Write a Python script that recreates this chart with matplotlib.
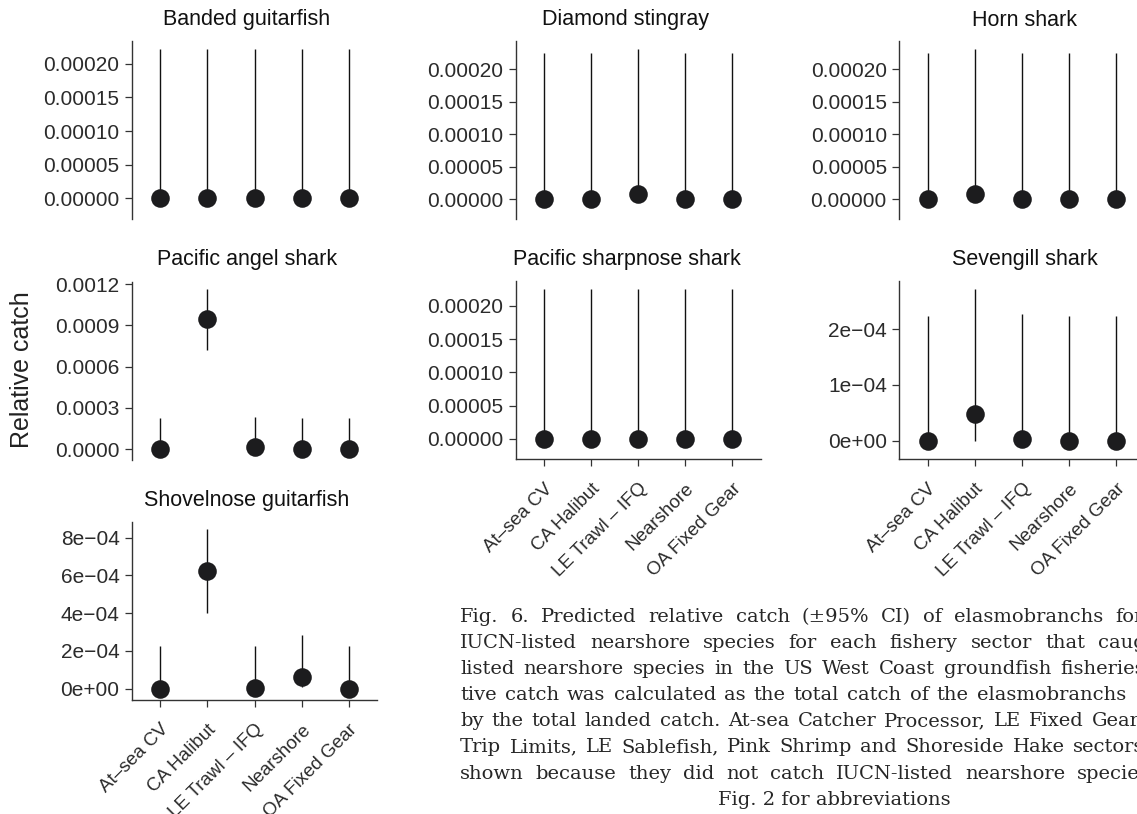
import matplotlib
matplotlib.use("Agg")
import matplotlib.pyplot as plt

# ---------------- data ----------------
sectors = ["At\u2013sea CV", "CA Halibut", "LE Trawl \u2013 IFQ", "Nearshore", "OA Fixed Gear"]

banded_est = [0.0, 0.0, 0.0, 0.0, 0.0]
banded_lo = [0.0, 0.0, 0.0, 0.0, 0.0]
banded_hi = [0.000223, 0.000223, 0.000223, 0.000223, 0.000223]

diamond_est = [0.0, 0.0, 0.0000077, 0.0, 0.0]
diamond_lo = [0.0, 0.0, 0.0, 0.0, 0.0]
diamond_hi = [0.000225, 0.000225, 0.000232, 0.000225, 0.000225]

horn_est = [0.0, 0.0000072, 0.0, 0.0, 0.0]
horn_lo = [0.0, 0.0, 0.0, 0.0, 0.0]
horn_hi = [0.000225, 0.000232, 0.000225, 0.000225, 0.000225]

angel_est = [0.0, 0.000944, 0.0000145, 0.0, 0.0]
angel_lo = [0.0, 0.000721, 0.0, 0.0, 0.0]
angel_hi = [0.000225, 0.001166, 0.000235, 0.000225, 0.000225]

sharpnose_est = [0.0, 0.0, 0.0, 0.0, 0.0]
sharpnose_lo = [0.0, 0.0, 0.0, 0.0, 0.0]
sharpnose_hi = [0.0002246, 0.0002246, 0.0002246, 0.0002246, 0.0002246]

sevengill_est = [0.0, 0.0000479, 0.0000025, 0.0, 0.0]
sevengill_lo = [0.0, 0.0, 0.0, 0.0, 0.0]
sevengill_hi = [0.0002235, 0.0002724, 0.0002265, 0.0002235, 0.0002235]

shovel_est = [0.0, 0.000625, 0.000002, 0.0000604, 0.0]
shovel_lo = [0.0, 0.000403, 0.0, 0.0000074, 0.0]
shovel_hi = [0.000226, 0.000846, 0.000226, 0.000283, 0.000226]

ticks_small = [0.0, 0.00005, 0.0001, 0.00015, 0.0002]
labels_small = ["0.00000", "0.00005", "0.00010", "0.00015", "0.00020"]
ticks_angel = [0.0, 0.0003, 0.0006, 0.0009, 0.0012]
labels_angel = ["0.0000", "0.0003", "0.0006", "0.0009", "0.0012"]
ticks_seven = [0.0, 0.0001, 0.0002]
labels_seven = ["0e+00", "1e\u221204", "2e\u221204"]
ticks_shovel = [0.0, 0.0002, 0.0004, 0.0006, 0.0008]
labels_shovel = ["0e+00", "2e\u221204", "4e\u221204", "6e\u221204", "8e\u221204"]

caption_lines = [
    "Fig. 6. Predicted relative catch (\u00b195% CI) of elasmobranchs for",
    "IUCN-listed nearshore species for each fishery sector that caught",
    "listed nearshore species in the US West Coast groundfish fisheries.",
    "tive catch was calculated as the total catch of the elasmobranchs",
    "by the total landed catch. At-sea Catcher Processor, LE Fixed Gear",
    "Trip Limits, LE Sablefish, Pink Shrimp and Shoreside Hake sectors",
    "shown because they did not catch IUCN-listed nearshore species.",
]
caption_last = "Fig. 2 for abbreviations"

# ---------------- layout ----------------
W, H = 1137, 814
fig = plt.figure(figsize=(W / 100, H / 100), dpi=100)

SANS = ["Liberation Sans", "DejaVu Sans"]
TXT = "#2b2b2b"
AXC = "#333333"


def rect(left, top, right, bottom):
    return [left / W, 1 - bottom / H, (right - left) / W, (bottom - top) / H]


panels = [
    # title, est, lo, hi, ticks, labels, ylim, (left, top, right, bottom), show_x, title_xy
    ("Banded guitarfish", banded_est, banded_lo, banded_hi, ticks_small, labels_small,
     (-0.0000313, 0.0002343), (132, 41, 377, 219), False, (247, 19)),
    ("Diamond stingray", diamond_est, diamond_lo, diamond_hi, ticks_small, labels_small,
     (-0.0000313, 0.0002441), (515.7, 40.7, 760.7, 219.3), False, (626, 20)),
    ("Horn shark", horn_est, horn_lo, horn_hi, ticks_small, labels_small,
     (-0.0000313, 0.0002441), (899.3, 40.7, 1144.3, 219.3), False, (1025, 20)),
    ("Pacific angel shark", angel_est, angel_lo, angel_hi, ticks_angel, labels_angel,
     (-0.0000777, 0.0012167), (132, 281.7, 377, 460), False, (247.5, 259)),
    ("Pacific sharpnose shark", sharpnose_est, sharpnose_lo, sharpnose_hi, ticks_small, labels_small,
     (-0.0000305, 0.0002375), (515.7, 280.7, 760.7, 459.3), True, (626.7, 259)),
    ("Sevengill shark", sevengill_est, sevengill_lo, sevengill_hi, ticks_seven, labels_seven,
     (-0.0000333, 0.0002865), (899.3, 280.7, 1144.3, 459.3), True, (1025, 259)),
    ("Shovelnose guitarfish", shovel_est, shovel_lo, shovel_hi, ticks_shovel, labels_shovel,
     (-0.0000599, 0.000885), (132, 521.7, 377, 700), True, (246.7, 500.7)),
]

xpos = list(range(1, len(sectors) + 1))

for title, est, lo, hi, ticks, labels, ylim, box, show_x, txy in panels:
    ax = fig.add_axes(rect(*box))
    ax.vlines(xpos, lo, hi, colors="#111111", linewidth=1.0, zorder=2)
    ax.plot(xpos, est, "o", color="#1c1c1e", markersize=13.4, markeredgewidth=0,
            zorder=3, clip_on=False)
    ax.set_xlim(0.4, 5.6)
    ax.set_ylim(*ylim)
    ax.set_yticks(ticks)
    ax.set_yticklabels(labels, fontsize=15, color=TXT, family=SANS)
    for s in ("top", "right"):
        ax.spines[s].set_visible(False)
    for s in ("left", "bottom"):
        ax.spines[s].set_color(AXC)
        ax.spines[s].set_linewidth(1.0)
    ax.tick_params(axis="both", length=5, width=0.9, color=AXC, pad=4)
    ax.set_xticks(xpos)
    if show_x:
        ax.set_xticklabels(sectors, fontsize=13.5, color=TXT, family=SANS,
                           rotation=45, ha="right", va="top", rotation_mode="anchor")
        ax.tick_params(axis="x", pad=10)
    else:
        ax.spines["bottom"].set_visible(False)
        ax.tick_params(axis="x", bottom=False, labelbottom=False)
    fig.text(txy[0] / W, 1 - txy[1] / H, title, fontsize=15.5, color="#111111",
             family=SANS, ha="center", va="center")

fig.text(21.7 / W, 1 - 370 / H, "Relative catch", fontsize=18, color="#222222",
         family=SANS, rotation=90, ha="center", va="center")

# ---------------- caption (justified, cut by the page edge) ----------------
CAP_FS = 14.0
CAP_FAM = ["DejaVu Serif"]
CAP_COL = "#262626"
renderer = fig.canvas.get_renderer()


def wwidth(w):
    t = fig.text(0, 0, w, fontsize=CAP_FS, family=CAP_FAM)
    bb = t.get_window_extent(renderer)
    t.remove()
    return bb.width


x_left = 460.0
last_word_start = [1115, 1098, 1060, 977, 1092, 1073, 1077]
base0 = 622.0
lead = 26.1

for i, (line, xl) in enumerate(zip(caption_lines, last_word_start)):
    words = line.split(" ")
    widths = [wwidth(w) for w in words]
    gap = (xl - x_left - sum(widths[:-1])) / (len(words) - 1)
    gap = max(gap, 3.0)
    x = x_left
    yb = base0 + i * lead
    for w, wd in zip(words, widths):
        fig.text(x / W, 1 - yb / H, w, fontsize=CAP_FS, family=CAP_FAM,
                 color=CAP_COL, ha="left", va="baseline")
        x += wd + gap

fig.text(718 / W, 1 - (base0 + 7 * lead) / H, caption_last, fontsize=CAP_FS,
         family=CAP_FAM, color=CAP_COL, ha="left", va="baseline")

fig.savefig("out.png", dpi=100)
